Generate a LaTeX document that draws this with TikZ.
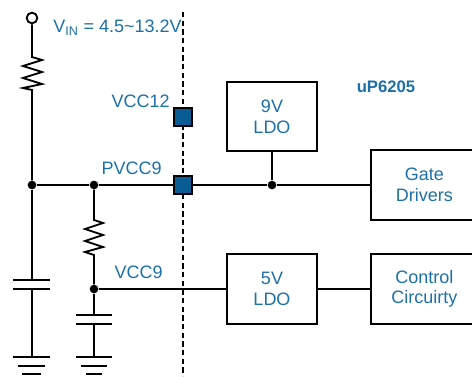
\documentclass[tikz,border=0pt]{standalone}
\usepackage{fontspec}
\setmainfont{Liberation Sans}
\usetikzlibrary{positioning, calc}
\definecolor{tiblue}{RGB}{28, 112, 168}
\definecolor{pinblue}{RGB}{10, 92, 148}

\begin{document}
\begin{tikzpicture}[
        x=0.75pt, y=-0.75pt,
        box/.style={rectangle, draw, line width=1.4pt, minimum width=67.5pt, minimum height=52pt, align=center, font=\fontsize{13.5}{15.5}\selectfont, text=tiblue, inner sep=0pt},
        pin/.style={rectangle, draw, line width=1.4pt, fill=pinblue, minimum size=13pt, inner sep=0pt},
        wire/.style={line width=1.4pt},
        lbl/.style={text=tiblue, font=\fontsize{13.5}{15.5}\selectfont, inner sep=0pt},
        dot/.style={circle, fill, inner sep=0pt, minimum size=6.5pt}
    ]
        \useasboundingbox (0,0) rectangle (472,376);

        % Chip boundary
        \coordinate (btop) at (183,12);
        \coordinate (bbot) at (183,376);
        \draw[line width=1pt, dash pattern=on 4pt off 2.5pt] (btop) -- (bbot);

        % Input terminal
        \node[circle, draw, line width=1.4pt, fill=white, minimum size=8pt, inner sep=0pt] (vin) at (32,18) {};
        \node[lbl, anchor=west] (vinlbl) at (53,28) {V\textsubscript{IN} = 4.5\textasciitilde13.2V};

        % Junctions
        \node[dot] (j1) at (32,185) {};
        \node[dot] (j2) at (94,185) {};
        \node[dot] (j3) at (94,289) {};
        \node[dot] (j4) at (272,185) {};

        % Pins
        \node[pin] (vcc12) at (183,117) {};
        \node[pin] (pvcc9) at (183,185) {};
        \node[lbl, anchor=east] at (170,101) {VCC12};
        \node[lbl, anchor=east] at (162,168) {PVCC9};
        \node[lbl, anchor=east] at (163,272) {VCC9};

        % Blocks
        \node[box] (ldo9) at (272,116.5) {9V\\LDO};
        \node[box] (ldo5) at (272,289) {5V\\LDO};
        \node[box, minimum width=80pt, anchor=west] (gate) at (370,185) {Gate\\Drivers};
        \node[box, minimum width=80pt, anchor=west] (ctrl) at (370,289) {Control\\Circuirty};
        \node[lbl, font=\fontsize{12.5}{14}\selectfont\bfseries] (chip) at (386,87) {uP6205};

        % Input resistor
        \draw[wire] (vin) -- (32,57) -- (42,60) -- (23,66) -- (42,72) -- (23,78) -- (42,84) -- (23,88) -- (32,90) -- (j1);

        % Main rail
        \draw[wire] (j1) -- (j2) -- (pvcc9) -- (j4) -- (gate);
        \draw[wire] (ldo9) -- (j4);

        % Input capacitor and ground
        \draw[wire] (j1) -- (32,280);
        \draw[wire] (13,280) -- (50,280);
        \draw[wire] (13,289) -- (50,289);
        \draw[wire] (32,289) -- (32,357);
        \draw[wire] (13,357) -- (50,357);
        \draw[wire] (18,366) -- (45,366);
        \draw[wire] (22,374) -- (41,374);

        % VCC9 resistor
        \draw[wire] (j2) -- (94,220) -- (103,223) -- (85,229) -- (103,235) -- (85,241) -- (103,247) -- (85,252) -- (94,255) -- (j3);

        % VCC9 capacitor and ground
        \draw[wire] (j3) -- (94,315);
        \draw[wire] (76,315) -- (112,315);
        \draw[wire] (76,324) -- (112,324);
        \draw[wire] (94,324) -- (94,357);
        \draw[wire] (76,357) -- (112,357);
        \draw[wire] (81,366) -- (107,366);
        \draw[wire] (86,374) -- (102,374);

        % VCC9 to 5V LDO to control
        \draw[wire] (j3) -- (ldo5);
        \draw[wire] (ldo5) -- (ctrl);
    \end{tikzpicture}
\end{document}
